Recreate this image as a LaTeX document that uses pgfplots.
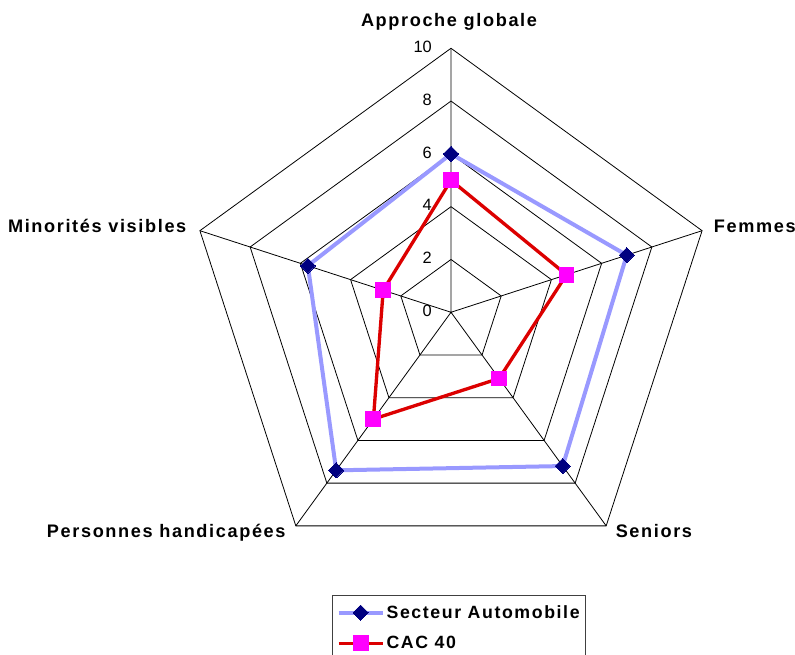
\documentclass[border=0pt]{standalone}
\usepackage{fontspec}
\setmainfont{Liberation Sans}
\newfontfamily\lblfont[LetterSpace=9]{Liberation Sans}
\usepackage{pgfplots}
\pgfplotsset{compat=1.18}
\usepgfplotslibrary{polar}
\usetikzlibrary{calc}
\definecolor{secteur}{RGB}{153,153,255}
\definecolor{secteurmk}{RGB}{0,0,128}
\definecolor{cacline}{RGB}{220,0,0}
\definecolor{cacmk}{RGB}{255,0,255}
\begin{document}
\begin{tikzpicture}
\begin{polaraxis}[
    width=396pt, height=396pt, scale only axis,
    hide axis, clip=false,
    xmin=0, xmax=360, ymin=0, ymax=10,
    xtick=\empty, ytick=\empty,
    legend style={at={(axis description cs:0.275,-0.035)}, anchor=north west,
        draw=black!75, line width=0.6pt, font=\lblfont\bfseries\fontsize{13.3}{15}\selectfont,
        inner xsep=3pt, inner ysep=6pt, row sep=9.2pt,
        nodes={inner sep=1.5pt}},
    legend cell align=left,
    legend image code/.code={\draw[mark repeat=2,mark phase=2,#1] plot coordinates {(0pt,0pt) (16.5pt,0pt) (33pt,0pt)};},
  ]
  % grid pentagons
  \addplot[forget plot, black, line width=0.6pt] coordinates {(90,2) (18,2) (306,2) (234,2) (162,2) (90,2)};
  \addplot[forget plot, black, line width=0.6pt] coordinates {(90,4) (18,4) (306,4) (234,4) (162,4) (90,4)};
  \addplot[forget plot, black, line width=0.6pt] coordinates {(90,6) (18,6) (306,6) (234,6) (162,6) (90,6)};
  \addplot[forget plot, black, line width=0.6pt] coordinates {(90,8) (18,8) (306,8) (234,8) (162,8) (90,8)};
  \addplot[forget plot, black, line width=0.6pt] coordinates {(90,10) (18,10) (306,10) (234,10) (162,10) (90,10)};
  % spokes
  \addplot[forget plot, black, line width=0.6pt] coordinates {(90,10) (0,0) (18,10) (0,0) (306,10) (0,0) (234,10) (0,0) (162,10)};

  \addplot[secteur, line width=3pt, mark=square*, mark size=4pt,
      mark options={rotate=45, fill=secteurmk, draw=secteurmk, line width=0pt}]
    coordinates {(90,6.0) (18,7.0) (306,7.2) (234,7.4) (162,5.7) (90,6.0)};
  \addlegendentry{Secteur Automobile}
  \addplot[cacline, line width=2.5pt, mark=square*, mark size=5.6pt,
      mark options={fill=cacmk, draw=cacmk, line width=0pt}]
    coordinates {(90,5.0) (18,4.6) (306,3.1) (234,5.0) (162,2.7) (90,5.0)};
  \addlegendentry{CAC 40}

  % radial tick labels
  \pgfplotsinvokeforeach{0,2,4,6,8,10}{
    \node[anchor=east, font=\fontsize{12.3}{14}\selectfont, inner sep=0pt, xshift=-14.2pt, yshift=1pt] at (axis cs:90,#1) {#1};
  }
  % category labels
  \begin{scope}[every node/.style={font=\lblfont\bfseries\fontsize{13.6}{15}\selectfont, inner sep=0pt}]
  \node[anchor=base, xshift=-1.5pt, yshift=16.7pt] at (axis cs:90,10) {Approche globale};
  \node[anchor=base west, xshift=8.7pt, yshift=-1.2pt] at (axis cs:18,10) {Femmes};
  \node[anchor=base west, xshift=7pt, yshift=-9pt] at (axis cs:306,10) {Seniors};
  \node[anchor=base east, xshift=-7.5pt, yshift=-9pt] at (axis cs:234,10) {Personnes handicapées};
  \node[anchor=base east, xshift=-10pt, yshift=-1.2pt] at (axis cs:162,10) {Minorités visibles};
  \end{scope}
  \coordinate (C) at (axis cs:0,0);
\end{polaraxis}
\pgfresetboundingbox
\path[use as bounding box] ($(C)+(-338.25pt,234.2pt)$) rectangle ($(C)+(258pt,-256.3pt)$);
\end{tikzpicture}
\end{document}
